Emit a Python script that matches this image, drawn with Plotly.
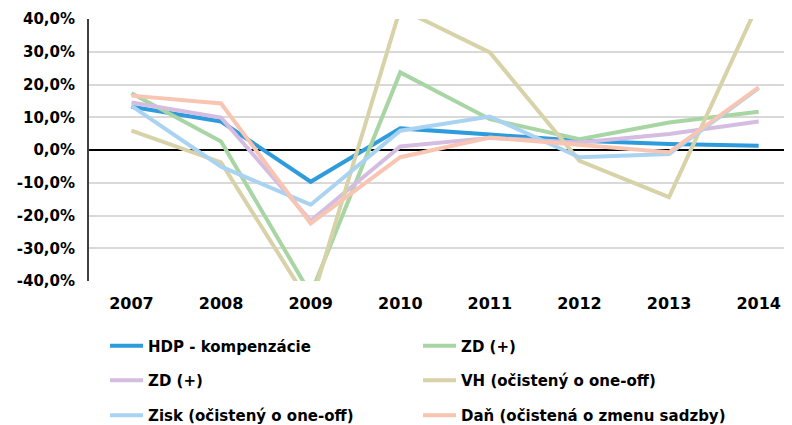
import plotly.graph_objects as go

years = ["2007", "2008", "2009", "2010", "2011", "2012", "2013", "2014"]

hdp = [13.2, 8.7, -9.7, 6.6, 4.7, 2.8, 1.8, 1.3]
zd_green = [17.3, 2.6, -44.0, 23.7, 9.4, 3.3, 8.4, 11.7]
zd_purple = [14.5, 9.9, -21.6, 1.1, 3.7, 2.3, 4.9, 8.7]
vh = [5.9, -3.8, -47.3, 43.2, 29.8, -3.3, -14.4, 45.0]
zisk = [13.5, -5.1, -16.7, 5.9, 10.2, -2.2, -1.2, 18.9]
dan = [16.6, 14.2, -22.4, -2.2, 3.8, 1.6, -0.7, 19.1]

names = ["HDP - kompenzácie", "ZD (+)", "ZD (+)", "VH (očistený o one-off)",
         "Zisk (očistený o one-off)", "Daň (očistená o zmenu sadzby)"]
colors = ["#2E9BDC", "#A8D5A4", "#D4BDE0", "#D8D2A9", "#A9D3F1", "#F8C5B2"]
series = [hdp, zd_green, zd_purple, vh, zisk, dan]

y_ticks = [-40, -30, -20, -10, 0, 10, 20, 30, 40]
y_tick_labels = ["-40,0%", "-30,0%", "-20,0%", "-10,0%", "0,0%", "10,0%", "20,0%", "30,0%", "40,0%"]

FONT = "DejaVu Sans"

# legend grid: two columns, three rows (one legend box per entry)
leg_cols = [0.0228, 0.468]
leg_rows = [-0.248, -0.380, -0.513]

fig = go.Figure()
for i, (name, col, vals) in enumerate(zip(names, colors, series)):
    lg = "legend" if i == 0 else f"legend{i + 1}"
    fig.add_trace(go.Scatter(
        x=years, y=vals, mode="lines", name=name, legend=lg,
        line=dict(color=col, width=4),
    ))

leg_layout = {}
for i in range(len(names)):
    key = "legend" if i == 0 else f"legend{i + 1}"
    leg_layout[key] = dict(
        x=leg_cols[i % 2], y=leg_rows[i // 2],
        xanchor="left", yanchor="middle", orientation="h",
        font=dict(family=FONT, size=15, color="#000000", weight="bold"),
        bgcolor="rgba(0,0,0,0)", itemwidth=33,
    )

# the page body adds an 8px offset, so margins are reduced by 8px
fig.update_layout(
    width=792, height=425,
    margin=dict(l=81, r=8, t=11, b=152, autoexpand=False),
    paper_bgcolor="white", plot_bgcolor="white",
    showlegend=True,
    **leg_layout,
    xaxis=dict(
        type="category", range=[-0.474, 7.372],
        showgrid=False, zeroline=False, showline=False,
        ticks="outside", ticklen=8, tickcolor="rgba(0,0,0,0)",
        tickfont=dict(family=FONT, size=16, color="#000000", weight="bold"),
    ),
    yaxis=dict(
        range=[-40, 40], tickvals=y_ticks, ticktext=y_tick_labels,
        showgrid=True, gridcolor="#D9D9D9", gridwidth=1.5,
        zeroline=True, zerolinecolor="#000000", zerolinewidth=1.5,
        showline=True, linecolor="#404040", linewidth=2,
        ticks="outside", ticklen=9, tickcolor="rgba(0,0,0,0)",
        tickfont=dict(family=FONT, size=15, color="#000000", weight="bold"),
    ),
)

fig.write_html("out.html")
